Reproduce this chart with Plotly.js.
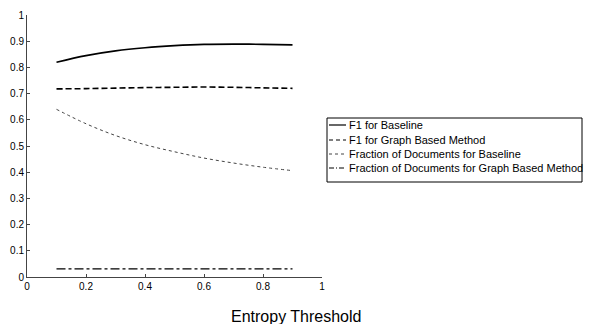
<!DOCTYPE html>
<html>
<head>
<meta charset="utf-8">
<script src="https://cdn.plot.ly/plotly-3.0.1.min.js"></script>
<style>html,body{margin:0;padding:0;background:#fff;}#chart{width:592px;height:324px;}</style>
</head>
<body>
<div id="chart"></div>
<script>
const thresholds = [0.1, 0.2, 0.3, 0.4, 0.5, 0.6, 0.7, 0.8, 0.9];
const f1Baseline = [0.820, 0.845, 0.863, 0.875, 0.883, 0.888, 0.889, 0.888, 0.886];
const f1Graph = [0.718, 0.719, 0.721, 0.723, 0.724, 0.725, 0.724, 0.722, 0.720];
const fracBaseline = [0.640, 0.585, 0.540, 0.505, 0.478, 0.454, 0.435, 0.419, 0.406];
const fracGraph = [0.031, 0.031, 0.031, 0.031, 0.031, 0.031, 0.031, 0.031, 0.031];
const seriesNames = ["F1 for Baseline", "F1 for Graph Based Method", "Fraction of Documents for Baseline", "Fraction of Documents for Graph Based Method"];
const yTicks = [0, 0.1, 0.2, 0.3, 0.4, 0.5, 0.6, 0.7, 0.8, 0.9, 1];
const yTickText = ["0", "0.1", "0.2", "0.3", "0.4", "0.5", "0.6", "0.7", "0.8", "0.9", "1"];
const xTicks = [0, 0.2, 0.4, 0.6, 0.8, 1];
const xTickText = ["0", "0.2", "0.4", "0.6", "0.8", "1"];
const xTitle = "Entropy Threshold";

const seriesValues = [f1Baseline, f1Graph, fracBaseline, fracGraph];
const lineStyles = [
  {color: '#000', width: 1.6, dash: 'solid', shape: 'spline'},
  {color: '#000', width: 1.6, dash: '6px,3px', shape: 'spline'},
  {color: '#444', width: 1, dash: 'dot', shape: 'spline'},
  {color: '#000', width: 1.2, dash: 'dashdot', shape: 'linear'}
];

const traces = seriesValues.map((vals, i) => ({
  x: thresholds, y: vals, name: seriesNames[i], mode: 'lines', line: lineStyles[i], showlegend: false
}));

const fam = 'Arial, "Liberation Sans", Helvetica, sans-serif';
const font = {family: fam, size: 10, color: '#000'};

// Manual MATLAB-style legend (compact box)
const W = 592, H = 324, mL = 27, mR = 270, mT = 15, mB = 47;
const pw = W - mL - mR, ph = H - mT - mB;
const px = v => (v - mL) / pw;
const py = v => (H - mB - v) / ph;
const legLeft = 327, legRight = 582, legTop = 118, legBottom = 182;
const legRows = [125, 140, 154, 168];

const shapes = [{type: 'rect', xref: 'paper', yref: 'paper', x0: px(legLeft), x1: px(legRight), y0: py(legBottom), y1: py(legTop),
  line: {color: '#000', width: 1}, fillcolor: '#fff', layer: 'above'}];
const annotations = [{text: xTitle, xref: 'paper', yref: 'paper', x: px(296), y: py(306), xanchor: 'center', yanchor: 'top',
  showarrow: false, font: {family: fam, size: 16, color: '#000'}}];
seriesNames.forEach((n, i) => {
  shapes.push({type: 'line', xref: 'paper', yref: 'paper', x0: px(329), x1: px(346), y0: py(legRows[i]), y1: py(legRows[i]),
    line: {color: lineStyles[i].color, width: i === 2 ? 1 : 1.2, dash: i === 1 ? '4px,3px' : (i === 3 ? '5px,2px,1px,2px' : lineStyles[i].dash)}, layer: 'above'});
  annotations.push({text: n, xref: 'paper', yref: 'paper', x: px(347), y: py(legRows[i]), xanchor: 'left', yanchor: 'middle',
    showarrow: false, font: {family: fam, size: 11, color: '#000'}});
});

const layout = {
  width: W, height: H,
  margin: {l: mL, r: mR, t: mT, b: mB},
  paper_bgcolor: '#fff', plot_bgcolor: '#fff',
  font: font,
  showlegend: false,
  xaxis: {range: [0, 1], tickvals: xTicks, ticktext: xTickText, ticks: 'inside', ticklen: 3, tickcolor: '#444',
          showline: true, linecolor: '#444', linewidth: 1, showgrid: false, zeroline: false, mirror: false,
          tickfont: font},
  yaxis: {range: [0, 1], tickvals: yTicks, ticktext: yTickText, ticks: 'inside', ticklen: 3, tickcolor: '#444',
          showline: true, linecolor: '#444', linewidth: 1, showgrid: false, zeroline: false, mirror: false,
          tickfont: font},
  shapes: shapes,
  annotations: annotations
};

Plotly.newPlot('chart', traces, layout, {displayModeBar: false, staticPlot: true});
</script>
</body>
</html>
